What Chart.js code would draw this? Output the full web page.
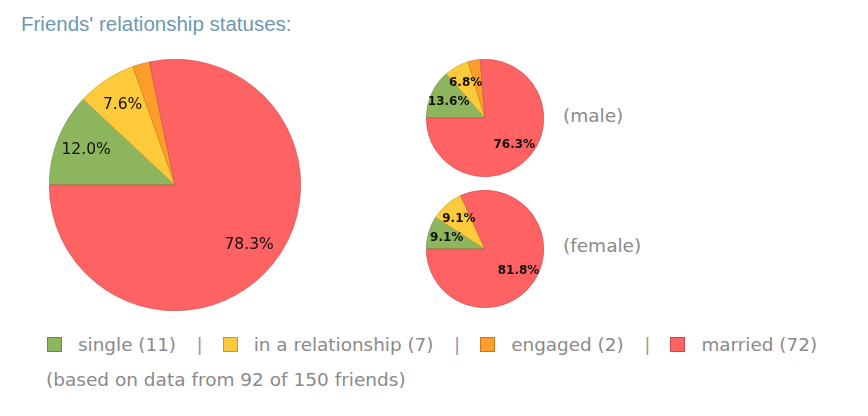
<!DOCTYPE html>
<html>
<head>
<meta charset="utf-8">
<script src="https://cdn.jsdelivr.net/npm/chart.js@4"></script>
<style>
  html,body{margin:0;padding:0;background:#fff;width:868px;height:416px;overflow:hidden;}
  #title{position:absolute;left:21px;top:12px;font-family:"Liberation Sans",Arial,sans-serif;font-size:20.5px;color:#6d98b4;white-space:nowrap;}
  canvas{position:absolute;}
  .side{position:absolute;left:563px;font-family:"DejaVu Sans",sans-serif;font-size:18.5px;color:#8a8a8a;}
  #legend{position:absolute;left:47px;top:334px;font-family:"DejaVu Sans",sans-serif;font-size:18.4px;color:#8a8a8a;display:flex;align-items:center;white-space:nowrap;}
  .box{display:inline-block;width:13px;height:13px;border:1px solid;margin-right:16px;}
  .sep{display:inline-block;margin:0 20px 0 20.5px;color:#999;}
  #foot{position:absolute;left:46px;top:369px;font-family:"DejaVu Sans",sans-serif;font-size:18.5px;color:#8a8a8a;white-space:nowrap;}
</style>
</head>
<body>
<div id="title">Friends' relationship statuses:</div>
<canvas id="all" width="252" height="252" style="left:49px;top:59px"></canvas>
<canvas id="male" width="118" height="118" style="left:426px;top:59px"></canvas>
<canvas id="female" width="118" height="118" style="left:426px;top:190px"></canvas>
<div class="side" style="top:105px">(male)</div>
<div class="side" style="top:235px">(female)</div>
<div id="legend"></div>
<div id="foot"></div>
<script>
const categories = ["single", "in a relationship", "engaged", "married"];
const allCounts = [11, 7, 2, 72];
const maleCounts = [8, 4, 2, 45];
const femaleCounts = [3, 3, 0, 27];
const sideLabels = ["(male)", "(female)"];
const friendsWithData = 92;
const friendsTotal = 150;

const fillColors = ["#8db55e", "#fdca3c", "#fc9d2c", "#fe6262"];
const edgeColors = ["#6a8a45", "#c99a20", "#c97718", "#c84848"];

const pctLabels = {
  id: 'pctLabels',
  afterDatasetsDraw(chart, args, opts) {
    const ctx = chart.ctx;
    const ds = chart.data.datasets[0];
    const total = ds.data.reduce((a, b) => a + b, 0);
    const meta = chart.getDatasetMeta(0);
    ctx.save();
    ctx.fillStyle = '#111';
    ctx.font = opts.font;
    ctx.textAlign = 'center';
    ctx.textBaseline = 'middle';
    meta.data.forEach((arc, i) => {
      const v = ds.data[i];
      const frac = v / total;
      if (frac < 0.05) return;
      const p = arc.getProps(['startAngle', 'endAngle', 'x', 'y', 'outerRadius'], true);
      const mid = (p.startAngle + p.endAngle) / 2;
      const r = p.outerRadius * opts.pos;
      ctx.fillText((frac * 100).toFixed(1) + '%', p.x + Math.cos(mid) * r, p.y + Math.sin(mid) * r);
    });
    ctx.restore();
  }
};

function makePie(id, counts, font, pos) {
  return new Chart(document.getElementById(id), {
    type: 'pie',
    data: {
      labels: categories,
      datasets: [{
        data: counts,
        backgroundColor: fillColors,
        borderColor: edgeColors,
        borderWidth: 0.6
      }]
    },
    options: {
      responsive: false,
      animation: false,
      rotation: -90,
      layout: { padding: 0 },
      plugins: {
        legend: { display: false },
        tooltip: { enabled: false },
        pctLabels: { font: font, pos: pos }
      }
    },
    plugins: [pctLabels]
  });
}

makePie('all', allCounts, '15.5px "DejaVu Sans"', 0.76);
makePie('male', maleCounts, 'bold 12px "DejaVu Sans"', 0.68);
makePie('female', femaleCounts, 'bold 12px "DejaVu Sans"', 0.68);

const legend = document.getElementById('legend');
categories.forEach((c, i) => {
  if (i > 0) {
    const s = document.createElement('span');
    s.className = 'sep';
    s.textContent = '|';
    legend.appendChild(s);
  }
  const b = document.createElement('span');
  b.className = 'box';
  b.style.background = fillColors[i];
  b.style.borderColor = edgeColors[i];
  legend.appendChild(b);
  const t = document.createElement('span');
  t.textContent = c + ' (' + allCounts[i] + ')';
  legend.appendChild(t);
});
document.getElementById('foot').textContent =
  '(based on data from ' + friendsWithData + ' of ' + friendsTotal + ' friends)';
</script>
</body>
</html>
